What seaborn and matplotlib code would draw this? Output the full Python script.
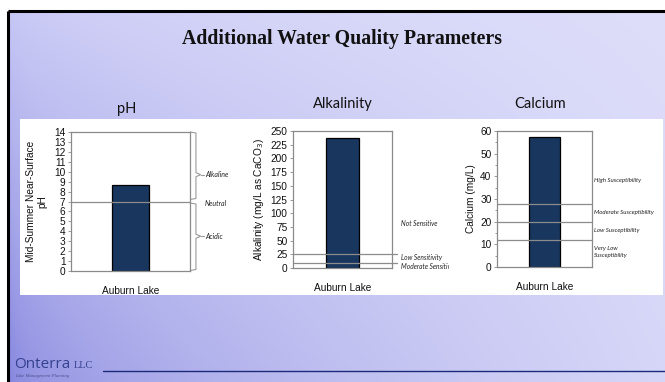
import numpy as np
import matplotlib
matplotlib.use("Agg")
import matplotlib.pyplot as plt
import seaborn as sns
import pandas as pd
from matplotlib.patches import Rectangle
from matplotlib.path import Path
from matplotlib.patches import PathPatch

# ---- data ----
lake = ["Auburn Lake"]
ph_values = [8.7]
alkalinity_values = [238]
calcium_values = [57.3]

ph_ticks = list(range(0, 15))
alk_ticks = list(range(0, 251, 25))
ca_ticks = list(range(0, 61, 10))

ph_neutral = 7
alk_thresholds = [25, 10]
ca_thresholds = [28, 20, 12]

ph_zones = ["Alkaline", "Neutral", "Acidic"]
ph_zone_pos = [9.7, 6.75, 3.5]
alk_zones = ["Not Sensitive", "Low Sensitivity", "Moderate Sensitivity"]
alk_zone_pos = [82, 20, 2]
ca_zones = ["High Susceptibility", "Moderate Susceptibility",
            "Low Susceptibility", "Very Low\nSusceptibility"]
ca_zone_pos = [38, 24, 16, 6.6]

sns.set_theme(style="white")
plt.rcParams["font.family"] = ["Liberation Sans", "DejaVu Sans"]

W, H = 665, 382
fig = plt.figure(figsize=(6.65, 3.82), dpi=100)
fig.patch.set_facecolor("white")

# ---- slide background in pixel coordinates ----
bg = fig.add_axes([0, 0, 1, 1], zorder=0)
bg.set_axis_off()
bg.set_xlim(0, W)
bg.set_ylim(H, 0)

gx = np.linspace(0, 1, 200)[None, :]
gy = np.linspace(0, 1, 120)[:, None]
tl = np.array([198, 198, 245]) / 255
tr = np.array([222, 222, 250]) / 255
bl = np.array([132, 132, 222]) / 255
br = np.array([214, 214, 248]) / 255
sx = np.sqrt(gx)[..., None]
grad = ((1 - gy)[..., None] * ((1 - sx) * tl + sx * tr)
        + gy[..., None] * ((1 - sx) * bl + sx * br))
bg.imshow(grad, extent=(8, W, H, 11), aspect="auto", interpolation="bilinear", zorder=0)

bg.plot([8, W], [11, 11], color="black", lw=2.2, zorder=3, solid_capstyle="butt")
bg.plot([8, 8], [11, H], color="black", lw=2.2, zorder=3, solid_capstyle="butt")

bg.add_patch(Rectangle((20, 119), 643, 176, facecolor="white", edgecolor="none", zorder=1))

bg.text(342, 39, "Additional Water Quality Parameters", ha="center", va="center",
        fontsize=14.3, fontweight="bold", family="Liberation Serif", color="#111111", zorder=2)

for label, cx, cy in [("pH", 127, 109), ("Alkalinity", 343, 104), ("Calcium", 540, 104)]:
    bg.text(cx, cy, label, ha="center", va="center", fontsize=10.5, family="Lato",
            color="#111111", zorder=2)

# footer logo and rule
bg.text(14, 365, "Onterra", ha="left", va="center", fontsize=11, family="Open Sans",
        color="#35428e", zorder=2)
bg.text(74, 366, "LLC", ha="left", va="center", fontsize=7.5, family="Liberation Serif",
        color="#35428e", zorder=2)
bg.text(15, 376, "Lake Management Planning", ha="left", va="center", fontsize=3.4,
        family="Liberation Serif", style="italic", color="#4a4f8a", zorder=2)
bg.plot([103, W], [371, 371], color="#1c2a7a", lw=1.0, zorder=2)


def px_axes(left, top, right, bottom):
    return [left / W, 1 - bottom / H, (right - left) / W, (bottom - top) / H]


def style_axes(ax, ticks, ylabel):
    ax.set_ylim(ticks[0], ticks[-1])
    ax.set_yticks(ticks)
    ax.set_xlim(-0.5, 0.5)
    for s in ax.spines.values():
        s.set_visible(True)
        s.set_color("#8a8a8a")
        s.set_linewidth(0.9)
    ax.tick_params(axis="y", which="both", left=True, direction="out", length=2.5,
                   width=0.6, color="#8a8a8a", labelsize=7.3, pad=1.5, labelcolor="#111111")
    ax.tick_params(axis="x", bottom=False, labelsize=7.3, pad=5, labelcolor="#111111")
    ax.set_xlabel("")
    ax.set_ylabel(ylabel, fontsize=7.3, color="#111111", labelpad=3)
    ax.set_facecolor("white")


bar_color = "#18365e"

# ---- pH ----
ax1 = fig.add_axes(px_axes(71, 132, 190, 271), zorder=5)
sns.barplot(x=lake, y=ph_values, ax=ax1, color=bar_color, edgecolor="black",
            linewidth=0.9, width=0.31, saturation=1)
style_axes(ax1, ph_ticks, "Mid-Summer Near-Surface\npH")
ax1.yaxis.labelpad = 5
ax1.plot([-0.5, 0.5], [ph_neutral, ph_neutral], color="#8c8c8c", lw=0.9, zorder=4)
tr1 = ax1.get_yaxis_transform()


def brace(ax, tr, y0, y1, ymid):
    x0, x1, x2 = 1.0, 1.05, 1.09
    verts = [(x0, y0), (x1, y0 - 0.1 * np.sign(y0 - y1)), (x1, ymid + 0.2), (x2, ymid),
             (x1, ymid - 0.2), (x1, y1 + 0.1 * np.sign(y0 - y1)), (x0, y1)]
    codes = [Path.MOVETO] + [Path.LINETO] * 6
    ax.add_patch(PathPatch(Path(verts, codes), transform=tr, fill=False,
                           edgecolor="#9a9a9a", lw=0.8, clip_on=False))
    ax.plot([x2, 1.115], [ymid, ymid], transform=tr, color="#9a9a9a", lw=0.8, clip_on=False)


brace(ax1, tr1, 14, 7.2, ph_zone_pos[0])
brace(ax1, tr1, 6.85, 0.05, ph_zone_pos[2])
for name, yv in zip(ph_zones, ph_zone_pos):
    ax1.text(1.125, yv, name, transform=tr1, ha="left", va="center", fontsize=5,
             style="italic", family="Lato", color="#222222", clip_on=False)

# ---- Alkalinity ----
ax2 = fig.add_axes(px_axes(293, 131, 392, 268), zorder=5)
sns.barplot(x=lake, y=alkalinity_values, ax=ax2, color=bar_color, edgecolor="black",
            linewidth=0.9, width=0.33, saturation=1)
style_axes(ax2, alk_ticks, "Alkalinity (mg/L as CaCO$_3$)")
tr2 = ax2.get_yaxis_transform()
for t in alk_thresholds:
    ax2.plot([0, 1.05], [t, t], transform=tr2, color="#8c8c8c", lw=0.9, zorder=4, clip_on=False)
clip_rect = Rectangle((0, 0), 449, H, transform=bg.transData)
for name, yv in zip(alk_zones, alk_zone_pos):
    t = ax2.text(1.09, yv, name, transform=tr2, ha="left", va="center", fontsize=4.8,
                 style="italic", family="Lato", color="#222222", clip_on=False)
    t.set_clip_path(clip_rect)
    t.set_clip_on(True)

# ---- Calcium ----
ax3 = fig.add_axes(px_axes(497, 131, 592, 267), zorder=5)
sns.barplot(x=lake, y=calcium_values, ax=ax3, color=bar_color, edgecolor="black",
            linewidth=0.9, width=0.32, saturation=1)
style_axes(ax3, ca_ticks, "Calcium (mg/L)")
ax3.set_yticks(list(range(0, 61, 5)), minor=True)
ax3.tick_params(axis="y", which="minor", length=1.5)
tr3 = ax3.get_yaxis_transform()
for t in ca_thresholds:
    ax3.plot([0, 1], [t, t], transform=tr3, color="#8c8c8c", lw=0.9, zorder=4)
for name, yv in zip(ca_zones, ca_zone_pos):
    ax3.text(1.02, yv, name, transform=tr3, ha="left", va="center", fontsize=4.4,
             style="italic", family="Lato", color="#222222", clip_on=False,
             linespacing=1.3)

fig.savefig("out.png", dpi=100, facecolor=fig.get_facecolor())
